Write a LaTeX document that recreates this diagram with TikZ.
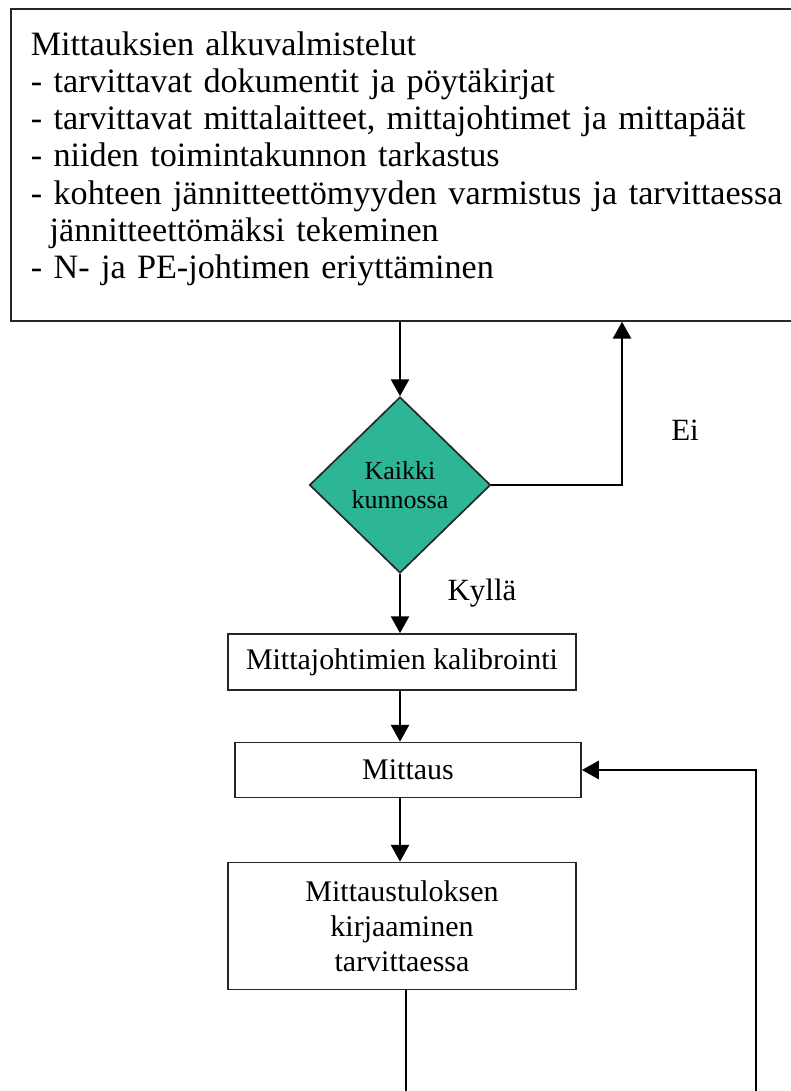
\documentclass[tikz,border=0pt]{standalone}
\usepackage{fontspec}
\setmainfont{Liberation Serif}
\usetikzlibrary{arrows.meta,shapes,positioning,calc}
\definecolor{checkgreen}{RGB}{44,182,150}
\tikzset{
    block/.style={
        rectangle,
        draw=black!85,
        line width=1.2pt,
        fill=white,
        inner sep=0pt,
        font=\fontsize{21.3}{25}\selectfont,
        align=center,
    },
    decision/.style={
        diamond,
        draw=black!85,
        line width=1.2pt,
        fill=checkgreen,
        inner sep=0pt,
        minimum width=4.525cm,
        minimum height=4.4cm,
        font=\fontsize{18.5}{21}\selectfont,
        align=center,
    },
    answer/.style={
        font=\fontsize{22}{25}\selectfont,
    },
}

\begin{document}
\begin{tikzpicture}[x=0.025cm,y=-0.025cm,>={Triangle[length=12pt,width=13pt]},line width=1.2pt]
    \useasboundingbox (0,0) rectangle (790,1091);
    \node [block,anchor=north west,text width=19cm,inner xsep=0.5cm,minimum height=7.8cm,text depth=173pt,align=left,font=\fontsize{24.3}{26.5}\selectfont] (prep) at (10,8) {Mittauksien alkuvalmistelut\\
        - tarvittavat dokumentit ja pöytäkirjat\\
        - tarvittavat mittalaitteet, mittajohtimet ja mittapäät\\
        - niiden toimintakunnon tarkastus\\
        - kohteen jännitteettömyyden varmistus ja tarvittaessa\\
        \hspace*{0.55em}jännitteettömäksi tekeminen\\
        - N- ja PE-johtimen eriyttäminen};
    \node [decision] (check) at (400,485) {Kaikki\\kunnossa};
    \node [block,minimum width=8.7cm,minimum height=1.4cm] (calib) at (402,662) {Mittajohtimien kalibrointi};
    \node [block,minimum width=8.65cm,minimum height=1.375cm] (meas) at (408,770) {Mittaus};
    \node [block,minimum width=8.7cm,minimum height=3.175cm] (record) at (402,926) {Mittaustuloksen\\kirjaaminen\\tarvittaessa};
    \node [answer] (no) at (685,430) {Ei};
    \node [answer] (yes) at (482,593) {Kyllä};
    \coordinate (no-turn) at (622,485);
    \coordinate (record-end) at (406,1100);
    \coordinate (loop-end) at (756,1100);
    \draw[->] (prep.south -| check.north) -- (check.north);
    \draw[->] (check.east) -- (no-turn) -- (no-turn |- prep.south);
    \draw[->] (check.south) -- (check.south |- calib.north);
    \draw[->] (calib.south -| check.south) -- (check.south |- meas.north);
    \draw[->] (meas.south -| check.south) -- (check.south |- record.north);
    \draw (record.south -| record-end) -- (record-end);
    \draw[->] (loop-end) -- (loop-end |- meas.east) -- (meas.east);
\end{tikzpicture}
\end{document}
